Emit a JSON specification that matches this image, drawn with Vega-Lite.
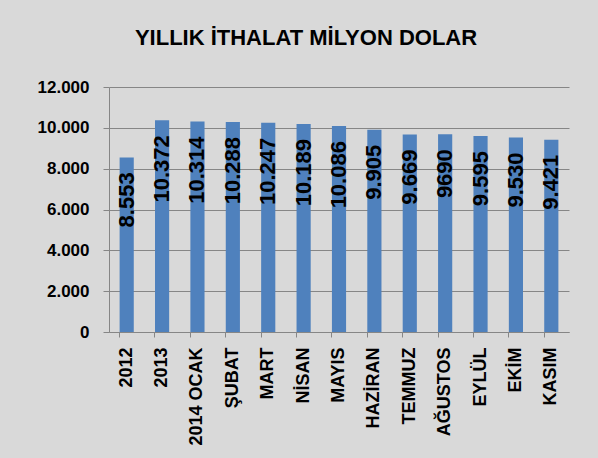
{
  "$schema": "https://vega.github.io/schema/vega-lite/v6.json",
  "autosize": "none",
  "width": 460,
  "height": 245,
  "padding": {"left": 109, "top": 87, "right": 29, "bottom": 126},
  "background": "#d9d9d9",
  "title": {
    "text": "YILLIK İTHALAT MİLYON DOLAR",
    "font": "Liberation Sans",
    "fontSize": 22,
    "fontWeight": "bold",
    "color": "#000000",
    "anchor": "middle",
    "dx": -33,
    "offset": 28
  },
  "data": {
    "values": [
      {"donem": "2012", "deger": 8553, "etiket": "8.553"},
      {"donem": "2013", "deger": 10372, "etiket": "10.372"},
      {"donem": "2014 OCAK", "deger": 10314, "etiket": "10.314"},
      {"donem": "ŞUBAT", "deger": 10288, "etiket": "10.288"},
      {"donem": "MART", "deger": 10247, "etiket": "10.247"},
      {"donem": "NİSAN", "deger": 10189, "etiket": "10.189"},
      {"donem": "MAYIS", "deger": 10086, "etiket": "10.086"},
      {"donem": "HAZİRAN", "deger": 9905, "etiket": "9.905"},
      {"donem": "TEMMUZ", "deger": 9669, "etiket": "9.669"},
      {"donem": "AĞUSTOS", "deger": 9690, "etiket": "9690"},
      {"donem": "EYLÜL", "deger": 9595, "etiket": "9.595"},
      {"donem": "EKİM", "deger": 9530, "etiket": "9.530"},
      {"donem": "KASIM", "deger": 9421, "etiket": "9.421"}
    ]
  },
  "encoding": {
    "x": {
      "field": "donem",
      "type": "nominal",
      "sort": null,
      "scale": {"paddingInner": 0.6, "paddingOuter": 0.3},
      "axis": {
        "title": null,
        "bandPosition": 0,
        "labelAngle": 270,
        "labelAlign": "right",
        "labelBaseline": "middle",
        "labelFont": "Liberation Sans",
        "labelFontSize": 18,
        "labelFontWeight": "bold",
        "labelColor": "#000000",
        "labelPadding": 10,
        "tickSize": 5,
        "tickColor": "#868686",
        "domainColor": "#868686",
        "grid": false
      }
    },
    "y": {
      "field": "deger",
      "type": "quantitative",
      "scale": {"domain": [0, 12000], "nice": false},
      "axis": {
        "title": null,
        "values": [0, 2000, 4000, 6000, 8000, 10000, 12000],
        "labelExpr": "replace(format(datum.value, ','), ',', '.')",
        "labelFont": "Liberation Sans",
        "labelFontSize": 17,
        "labelFontWeight": "bold",
        "labelColor": "#000000",
        "labelPadding": 14,
        "tickSize": 6,
        "tickColor": "#868686",
        "domainColor": "#868686",
        "gridColor": "#868686",
        "gridWidth": 1
      }
    }
  },
  "layer": [
    {"mark": {"type": "bar", "color": "#4f81bd"}},
    {
      "mark": {
        "type": "text",
        "angle": 270,
        "align": "right",
        "baseline": "middle",
        "dx": -15,
        "font": "Liberation Sans",
        "fontSize": 22,
        "fontWeight": "bold",
        "color": "#000000"
      },
      "encoding": {"text": {"field": "etiket"}}
    }
  ],
  "config": {"view": {"stroke": null}}
}
